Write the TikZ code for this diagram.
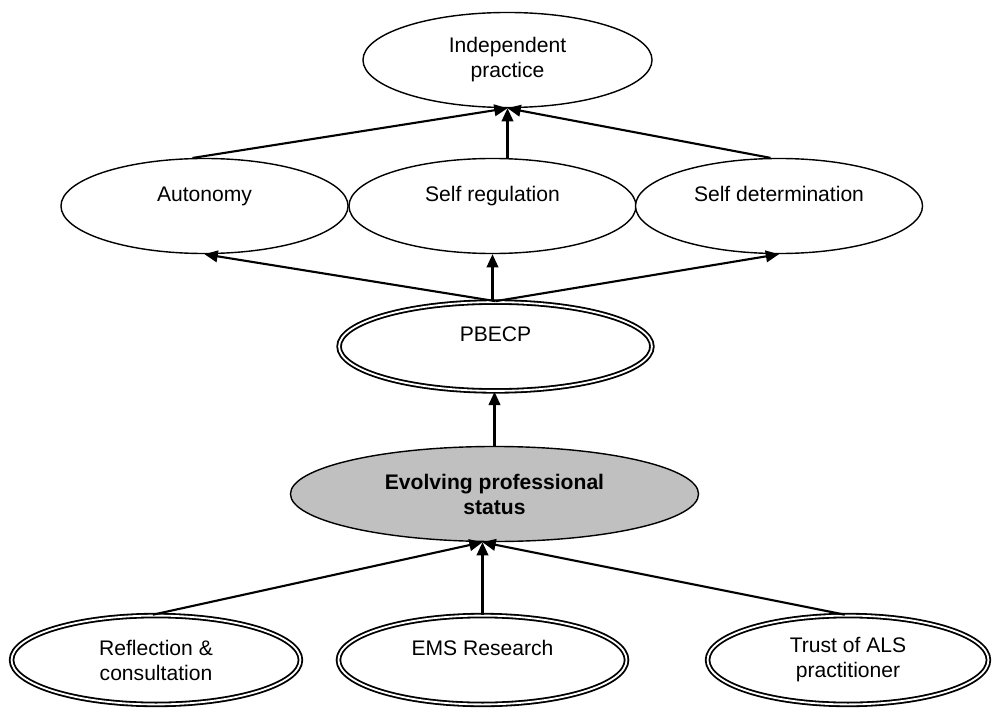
\documentclass[tikz,border=0pt]{standalone}
\usepackage{fontspec}
\setmainfont{Liberation Sans}
\usetikzlibrary{shapes.geometric,arrows.meta}
\definecolor{statusgray}{RGB}{192,192,192}
\tikzset{
  bubble/.style={draw,ellipse,line width=1pt,fill=white,align=center,inner sep=0pt,
    minimum width=7.175cm,minimum height=2.375cm},
  dbubble/.style={bubble,double,line width=1.3pt,double distance=1.3pt,minimum height=2.22cm},
  lifted/.style={text depth=0.6cm},
  link/.style={line width=1.5pt,-{Triangle[length=0.33cm,width=0.29cm]}}
}

\begin{document}
\begin{tikzpicture}[x=0.025cm,y=-0.025cm,font=\fontsize{15}{17.8}\selectfont]
\useasboundingbox (0,0) rectangle (992,709);
% top
\node[bubble,minimum width=7.225cm] (indep) at (507.5,60) {Independent\\practice};
\node[bubble,lifted] (auto) at (204.5,206) {Autonomy};
\node[bubble,lifted] (selfreg) at (492.5,206) {Self regulation};
\node[bubble,lifted] (selfdet) at (779,206) {Self determination};
\node[dbubble,lifted,minimum width=7.82cm] (pbecp) at (495.5,346.5) {PBECP};
\node[bubble,fill=statusgray,minimum width=10.2cm] (status) at (494.5,494) {\textbf{Evolving professional}\\\textbf{status}};
% bottom
\node[dbubble,minimum width=7.22cm] (reflect) at (156,660) {Reflection \&\\consultation};
\node[dbubble,lifted,minimum width=7.2cm] (ems) at (482.5,660) {EMS Research};
\node[dbubble,minimum width=7.02cm] (trust) at (848,660) {Trust of ALS\\practitioner};
\coordinate (hub) at (ems.north |- status.south);
% arrows
\draw[link] (auto.104) -- (indep.south);
\draw[link] (indep.south |- selfreg.north) -- (indep.south);
\draw[link] (selfdet.100) -- (indep.south);
\draw[link] (pbecp.north) -- (auto.south);
\draw[link] (selfreg.south |- pbecp.north) -- (selfreg.south);
\draw[link] (pbecp.north) -- (selfdet.south);
\draw[link] (status.north) -- (status.north |- pbecp.south);
\draw[link] (reflect.94) -- (hub);
\draw[link] (ems.north) -- (hub);
\draw[link] (trust.94) -- (hub);
\end{tikzpicture}
\end{document}
